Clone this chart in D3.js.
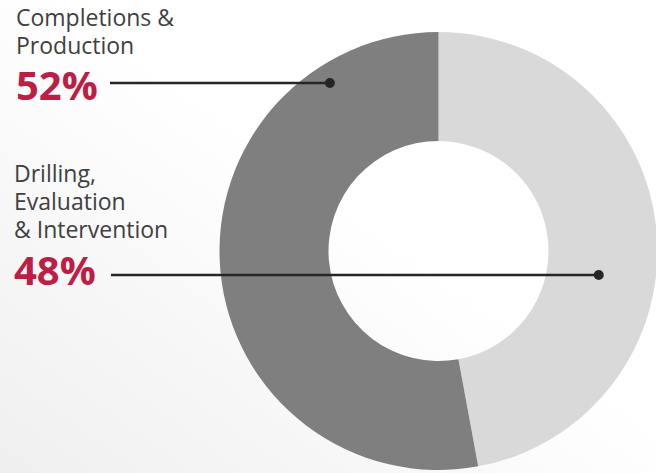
<!DOCTYPE html>
<html>
<head>
<meta charset="utf-8">
<script src="https://cdn.jsdelivr.net/npm/d3@7"></script>
<style>
  body { margin: 0; background: #fff; }
  svg { display: block; }
</style>
</head>
<body>
<div id="chart"></div>
<script>
// segment data, clockwise from 12 o'clock
var categories = ["Drilling, Evaluation & Intervention", "Completions & Production"];
var shares = [47.1, 52.9];          // slice sizes as drawn
var percentLabels = ["48%", "52%"]; // printed labels
var labelLines = [["Drilling,", "Evaluation", "& Intervention"], ["Completions &", "Production"]];
var sliceColors = ["#d9d9d9", "#7f7f7f"];

var width = 656, height = 473;
var cx = 438.5, cy = 251, outerR = 219, innerR = 110;

var svg = d3.select("#chart").append("svg")
    .attr("width", width)
    .attr("height", height);

// soft grey wash towards bottom-left
var defs = svg.append("defs");
var grad = defs.append("linearGradient")
    .attr("id", "bg")
    .attr("x1", "1").attr("y1", "0")
    .attr("x2", "0").attr("y2", "1");
grad.append("stop").attr("offset", "0.45").attr("stop-color", "#ffffff");
grad.append("stop").attr("offset", "1").attr("stop-color", "#efefef");

svg.append("rect")
    .attr("width", width).attr("height", height)
    .attr("fill", "url(#bg)");

var pie = d3.pie().sort(null).value(function(d) { return d; });
var arc = d3.arc().innerRadius(innerR).outerRadius(outerR);

var g = svg.append("g").attr("transform", "translate(" + cx + "," + cy + ")");

g.selectAll("path")
    .data(pie(shares))
    .enter().append("path")
    .attr("d", arc)
    .attr("fill", function(d, i) { return sliceColors[i]; });

// callouts: text block position and where the leader ends (polar, from pie centre)
var callouts = [
  { idx: 1, x: 16, firstBase: 26, pctBase: 100, lineX0: 110, dotR: 200, dotAng: -32.9 },
  { idx: 0, x: 14, firstBase: 182, pctBase: 285, lineX0: 111, dotR: 162, dotAng: 98.5 }
];

callouts.forEach(function(c) {
  var lines = labelLines[c.idx];
  var t = svg.append("text")
      .style("font-family", "'Open Sans', sans-serif")
      .style("font-size", "23px")
      .style("fill", "#404040");
  lines.forEach(function(s, j) {
    t.append("tspan").attr("x", c.x).attr("y", c.firstBase + j * 28).text(s);
  });

  svg.append("text")
      .attr("x", c.x)
      .attr("y", c.pctBase)
      .style("font-family", "'Open Sans', sans-serif")
      .style("font-weight", "bold")
      .style("font-size", "40px")
      .style("fill", "#be1e45")
      .text(percentLabels[c.idx]);

  var a = c.dotAng * Math.PI / 180;
  var dx = cx + c.dotR * Math.sin(a);
  var dy = cy - c.dotR * Math.cos(a);
  svg.append("line")
      .attr("x1", c.lineX0).attr("y1", dy)
      .attr("x2", dx).attr("y2", dy)
      .attr("stroke", "#262626")
      .attr("stroke-width", 2.5);
  svg.append("circle")
      .attr("cx", dx).attr("cy", dy)
      .attr("r", 5)
      .attr("fill", "#262626");
});
</script>
</body>
</html>
